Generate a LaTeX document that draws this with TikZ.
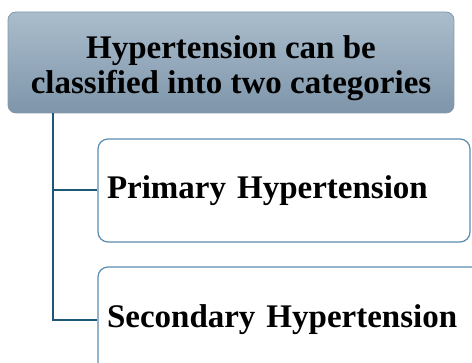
\documentclass[tikz,border=0pt]{standalone}
\usepackage{fontspec}
\setmainfont{Liberation Serif}
\definecolor{topA}{HTML}{AABDCC}
\definecolor{topB}{HTML}{7E95AA}
\definecolor{topEdge}{HTML}{8597A8}
\definecolor{kidEdge}{HTML}{5A8CAE}
\definecolor{link}{HTML}{1E5878}
\begin{document}
\begin{tikzpicture}[x=1pt,y=-1pt,
  headbox/.style={draw=topEdge, line width=0.8pt, rounded corners=8pt, top color=topA, bottom color=topB,
    minimum width=446pt, minimum height=101pt, inner sep=0pt},
  headtext/.style={align=center, inner sep=0pt, font=\fontsize{33}{35}\selectfont\bfseries},
  kidbox/.style={draw=kidEdge, line width=1.2pt, rounded corners=10pt, fill=white,
    minimum height=103pt, inner xsep=9pt, inner ysep=0pt, align=left,
    font=\fontsize{33}{35}\selectfont\bfseries},
  linkline/.style={draw=link, line width=2pt}]
\useasboundingbox (0,0) rectangle (472,363);
\clip (0,0) rectangle (472,363);
\node[headbox] (top) at (231,62.5) {};
\node[headtext] (toptext) at ([yshift=-6pt]top.center) {Hypertension can be\\classified into two categories};
\node[kidbox, text width=354pt] (prim) at (284,190.5) {Primary Hypertension};
\node[kidbox, text width=384pt, minimum height=106pt] (sec) at (299,320) {Secondary Hypertension};
\coordinate (trunk) at ([xshift=45pt]top.south west);
\draw[linkline] (trunk) |- (prim.west);
\draw[linkline] (trunk) |- (sec.west);
\end{tikzpicture}
\end{document}
